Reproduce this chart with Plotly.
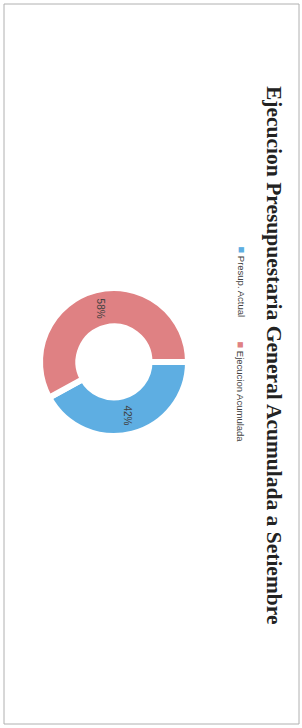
import math
import plotly.graph_objects as go

labels = ["Presup. Actual", "Ejecucion Acumulada"]
values = [42, 58]
colors = ["#5eaee2", "#df8183"]
title_text = "Ejecucion Presupuestaria General Acumulada a Setiembre"

W, H = 302, 728
cx, cy, r = 114, 362, 74
hole = 0.48
rotation = 90

fig = go.Figure(go.Pie(
    labels=labels,
    values=values,
    hole=hole,
    sort=False,
    direction="clockwise",
    rotation=rotation,
    marker=dict(colors=colors, line=dict(color="white", width=6)),
    textinfo="none",
    domain=dict(x=[(cx - r) / W, (cx + r) / W], y=[(H - cy - r) / H, (H - cy + r) / H]),
    showlegend=False,
))

annotations = [
    dict(text="<b>" + title_text + "</b>", x=274 / W, y=1 - 355 / H, xref="paper", yref="paper",
         showarrow=False, textangle=90, xanchor="center", yanchor="middle",
         font=dict(family="Liberation Serif", size=21.5, color="#222222")),
]

# percentage labels at the mid-angle of each slice (rotated like the rest of the chart)
total = sum(values)
cum = 0
rm = r * (1 + hole) / 2
for v in values:
    mid = (cum + v / 2) / total * 360 + rotation - 90  # degrees clockwise from 3 o'clock
    cum += v
    px = cx + rm * math.cos(math.radians(mid))
    py = cy + rm * math.sin(math.radians(mid))
    annotations.append(dict(
        text="%d%%" % round(100 * v / total), x=px / W, y=1 - py / H, xref="paper", yref="paper",
        showarrow=False, textangle=90, xanchor="center", yanchor="middle",
        font=dict(family="Liberation Sans", size=10, color="#404040")))

leg_y = [244, 339]
for lab, col, yy in zip(labels, colors, leg_y):
    annotations.append(dict(
        text="<span style='color:%s;font-size:11px'>■</span> %s" % (col, lab),
        x=241 / W, y=1 - yy / H, xref="paper", yref="paper", showarrow=False,
        textangle=90, xanchor="center", yanchor="top",
        font=dict(family="Liberation Sans", size=9.5, color="#404040")))

fig.update_layout(
    width=W, height=H,
    margin=dict(l=0, r=0, t=0, b=0),
    paper_bgcolor="white", plot_bgcolor="white",
    annotations=annotations,
    shapes=[dict(type="rect", xref="paper", yref="paper", x0=4 / W, x1=299 / W, y0=4 / H, y1=1 - 4 / H,
                 line=dict(color="#b0b0b0", width=1))],
)

fig.write_html("out.html", config={"displayModeBar": False},
               post_script="document.body.style.margin='0';")
